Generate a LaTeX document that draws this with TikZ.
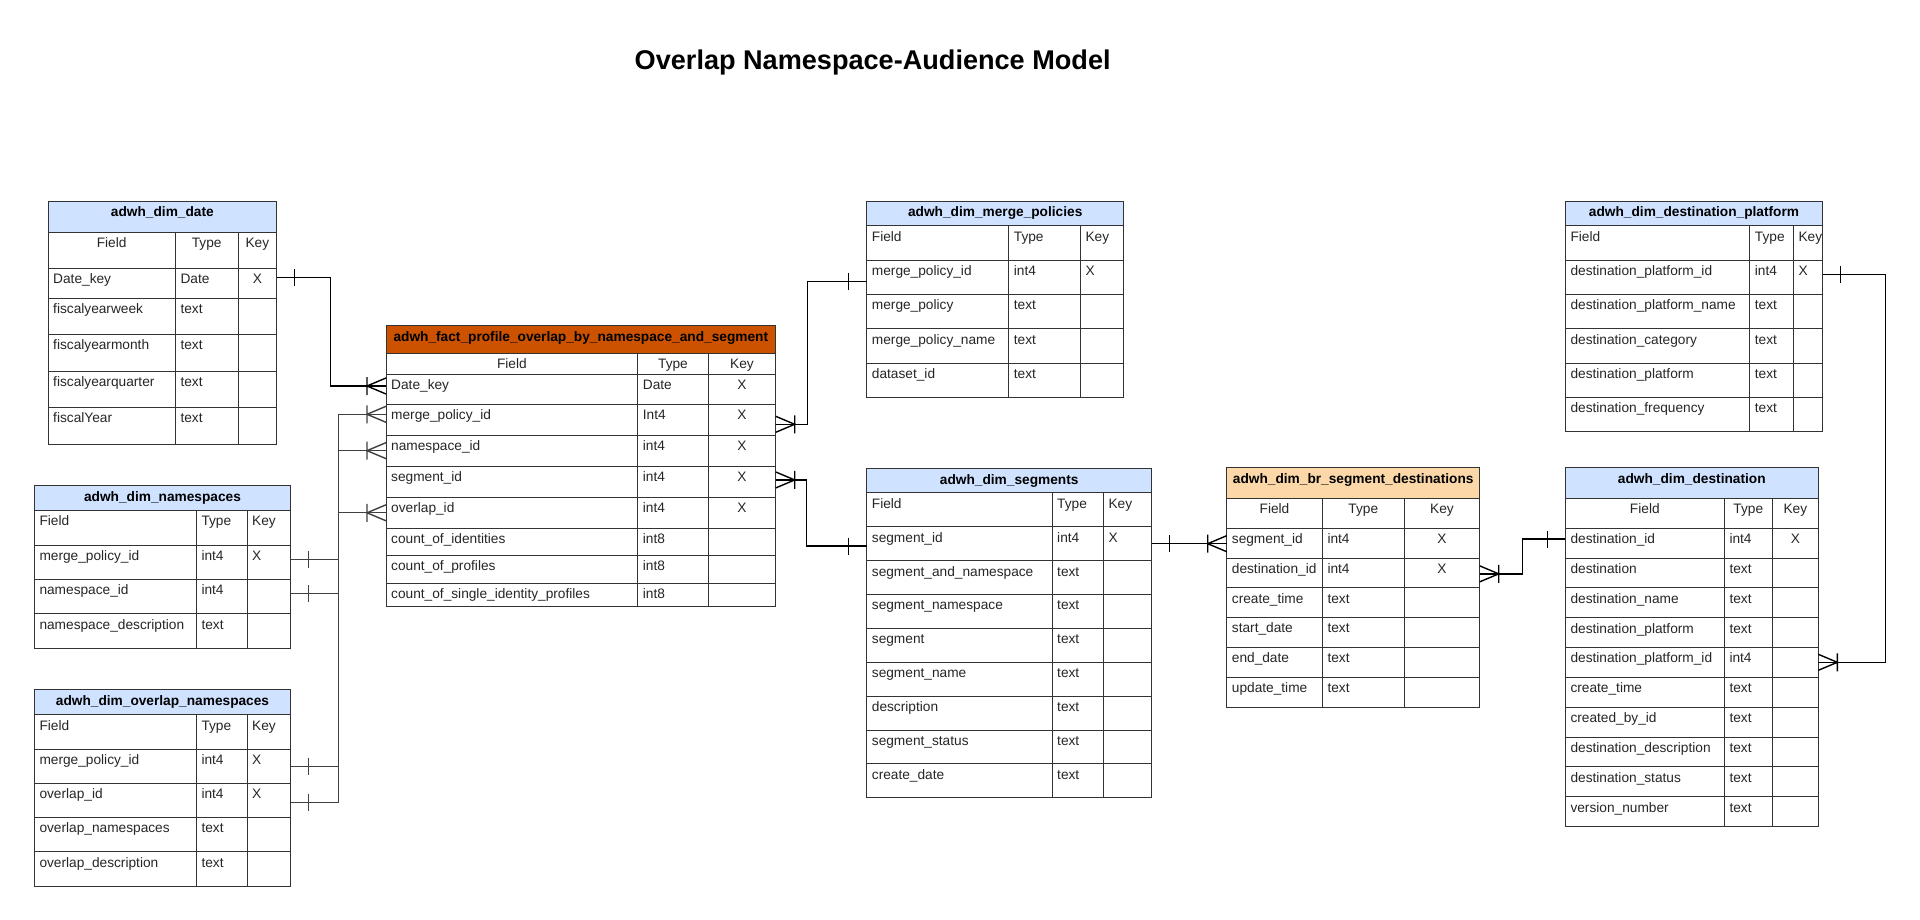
\documentclass[tikz,border=0pt]{standalone}
\usepackage{fontspec}
\setmainfont{Liberation Sans}
\usetikzlibrary{positioning}

\definecolor{headblue}{RGB}{207,226,255}
\definecolor{headfact}{RGB}{204,82,0}
\definecolor{headbridge}{RGB}{252,216,168}

\tikzstyle{tbl} = [draw=black!80, line width=0.9pt, rectangle, inner sep=0pt, outer sep=0pt]
\tikzstyle{tblhead} = [tbl]
\tikzstyle{headtxt} = [anchor=base, inner sep=0pt, font=\bfseries\fontsize{13.7}{16}\selectfont]
\tikzstyle{celltxt} = [inner sep=0pt, text=black!85, font=\fontsize{13.7}{16}\selectfont]
\tikzstyle{conn} = [draw=black, line width=1.5pt]
\tikzstyle{trunk} = [draw=black!75, line width=1.2pt]

\tikzset{
  one/.pic={\draw[line width=1.4pt] (18,-8.5) -- (18,8.5);},
  many/.pic={\draw[line width=1.4pt] (0,8) -- (19,0) -- (0,-8) (19,-9) -- (19,9);}
}

% table head: name, top-left, col widths a b c, fill, head height, mode (l/c), title
\newcommand{\ertable}[9]{%
  \xdef\wa{#3}\xdef\wb{#4}\xdef\wc{#5}\xdef\tmode{#8}%
  \pgfmathsetmacro\tw{#3+#4+#5}%
  \node[tblhead, fill=#6, minimum width=\tw, minimum height=#7, anchor=north west] (#1-h) at #2 {};
  \node[headtxt] at ([yshift=-16]#1-h.north) {#9};
}

% one cell text, left or centred after \tmode
\newcommand{\cellat}[4]{%
  \if c\tmode
    \node[celltxt, anchor=base] at ([xshift=#2+#3/2, yshift=-15.5]#1.north west) {#4};
  \else
    \node[celltxt, anchor=base west] at ([xshift=#2+5, yshift=-15.5]#1.north west) {#4};
  \fi
}

% rows: name, field row height, field/type/key/height
\newcommand{\errows}[3]{%
  \node[tbl, minimum width=\tw, minimum height=#2, below=0pt of #1-h] (#1-0) {};
  \cellat{#1-0}{0}{\wa}{Field}
  \cellat{#1-0}{\wa}{\wb}{Type}
  \cellat{#1-0}{\wa+\wb}{\wc}{Key}
  \foreach \f/\t/\k/\h [count=\i, remember=\i as \j (initially 0)] in {#3} {
    \node[tbl, minimum width=\tw, minimum height=\h, below=0pt of #1-\j] (#1-\i) {};
    \node[celltxt, anchor=base west] at ([xshift=5, yshift=-15.5]#1-\i.north west) {\f};
    \node[celltxt, anchor=base west] at ([xshift=\wa+5, yshift=-15.5]#1-\i.north west) {\t};
    \cellat{#1-\i}{\wa+\wb}{\wc}{\k}
    \xdef\lastrow{\i}
  }
  \draw[tbl] ([xshift=\wa]#1-0.north west) -- ([xshift=\wa]#1-\lastrow.south west)
    ([xshift=\wa+\wb]#1-0.north west) -- ([xshift=\wa+\wb]#1-\lastrow.south west);
}

\begin{document}
\begin{tikzpicture}[x=1pt, y=-1pt]
  \fill[white] (0,0) rectangle (1920,920);
  \useasboundingbox (0,0) rectangle (1920,920);

  \node[anchor=base, inner sep=0pt, font=\bfseries\fontsize{27.1}{32}\selectfont] (title) at (872.7,70) {Overlap Namespace-Audience Model};

  % dimension and fact tables
  \ertable{date}{(48,201)}{127.3}{62.7}{38.7}{headblue}{31}{c}{adwh\_dim\_date}
  \errows{date}{36}{Date\_key/Date/X/30, fiscalyearweek/text/{}/36, fiscalyearmonth/text/{}/37,
    fiscalyearquarter/text/{}/36, fiscalYear/text/{}/37}

  \ertable{ns}{(34.3,485.7)}{162}{50.7}{43.7}{headblue}{24.6}{l}{adwh\_dim\_namespaces}
  \errows{ns}{35}{merge\_policy\_id/int4/X/34, namespace\_id/int4/{}/34.4,
    namespace\_description/text/{}/34.3}

  \ertable{ov}{(34.3,689.7)}{162}{50.7}{43.7}{headblue}{25}{l}{adwh\_dim\_overlap\_namespaces}
  \errows{ov}{34.3}{merge\_policy\_id/int4/X/34.3, overlap\_id/int4/X/34,
    overlap\_namespaces/text/{}/34.4, overlap\_description/text/{}/34.3}

  \ertable{fact}{(386,325)}{251.7}{70.6}{67.4}{headfact}{28.3}{c}{adwh\_fact\_profile\_overlap\_by\_namespace\_and\_segment}
  \errows{fact}{21}{Date\_key/Date/X/30, merge\_policy\_id/Int4/X/31, namespace\_id/int4/X/30.7,
    segment\_id/int4/X/31.3, overlap\_id/int4/X/31, count\_of\_identities/int8/{}/26.7,
    count\_of\_profiles/int8/{}/28, count\_of\_single\_identity\_profiles/int8/{}/23}

  \ertable{merge}{(866.7,201)}{142}{71.6}{43.4}{headblue}{24.7}{l}{adwh\_dim\_merge\_policies}
  \errows{merge}{34.6}{merge\_policy\_id/int4/X/34, merge\_policy/text/{}/34.4,
    merge\_policy\_name/text/{}/34.3, dataset\_id/text/{}/34.3}

  \ertable{seg}{(866.7,468.3)}{185.3}{51.3}{48.4}{headblue}{24.4}{l}{adwh\_dim\_segments}
  \errows{seg}{34}{segment\_id/int4/X/34, segment\_and\_namespace/text/{}/33.6,
    segment\_namespace/text/{}/34, segment/text/{}/34, segment\_name/text/{}/33.7,
    description/text/{}/34, segment\_status/text/{}/33.7, create\_date/text/{}/34}

  \ertable{br}{(1226.7,467.7)}{95.6}{82}{75.4}{headbridge}{30.6}{c}{adwh\_dim\_br\_segment\_destinations}
  \errows{br}{30}{segment\_id/int4/X/29.7, destination\_id/int4/X/29.7, create\_time/text/{}/29.6,
    start\_date/text/{}/29.7, end\_date/text/{}/30, update\_time/text/{}/30}

  \ertable{plat}{(1565.3,201)}{184.4}{43.6}{29.4}{headblue}{24.7}{l}{adwh\_dim\_destination\_platform}
  \errows{plat}{34.6}{destination\_platform\_id/int4/X/34, destination\_platform\_name/text/{}/34.4,
    destination\_category/text/{}/34.3, destination\_platform/text/{}/34, destination\_frequency/text/{}/34}

  \ertable{dest}{(1565.3,467.7)}{159}{48}{46}{headblue}{30.6}{c}{adwh\_dim\_destination}
  \errows{dest}{30}{destination\_id/int4/X/29.7, destination/text/{}/29.7, destination\_name/text/{}/30,
    destination\_platform/text/{}/29.6, destination\_platform\_id/int4/{}/30, create\_time/text/{}/30,
    created\_by\_id/text/{}/29.7, destination\_description/text/{}/29.7, destination\_status/text/{}/30,
    version\_number/text/{}/30}

  % relations
  \draw[trunk] ([yshift=3]ns-1.east) pic{one} -- ++(48,0) |- ([yshift=5.5]fact-2.west) pic[xscale=-1]{many};
  \draw[trunk] ([yshift=3]ns-2.east) pic{one} -- ++(48,0) |- (fact-3.west) pic[xscale=-1]{many};
  \draw[trunk] (ov-1.east) pic{one} -- ++(48,0) |- ([yshift=5.5]fact-2.west);
  \draw[trunk] ([yshift=-2]ov-2.east) pic{one} -- ++(48,0) |- (fact-5.west) pic[xscale=-1]{many};
  \draw[conn] ([yshift=5.6]date-1.east) pic{one} -- ++(54,0) |- ([yshift=3.3]fact-1.west) pic[xscale=-1]{many};
  \draw[conn] ([yshift=-4.5]fact-2.east) pic{many} -- ++(32,0) |- ([yshift=-4.4]merge-1.west) pic[xscale=-1]{one};
  \draw[conn] ([yshift=1.7]fact-4.east) pic{many} -- ++(31,0) |- ([yshift=-2.3]seg-1.west) pic[xscale=-1]{one};
  \draw[conn] (seg-1.east) pic{one} -- (seg-1.east -| br-1.west) pic[xscale=-1]{many};
  \draw[conn] ([yshift=-1]br-2.east) pic{many} -- ++(43,0) |- ([yshift=4]dest-1.west) pic[xscale=-1]{one};
  \draw[conn] ([yshift=3]plat-1.east) pic{one} -- ++(63,0) |- (dest-5.east) pic{many};
\end{tikzpicture}
\end{document}
